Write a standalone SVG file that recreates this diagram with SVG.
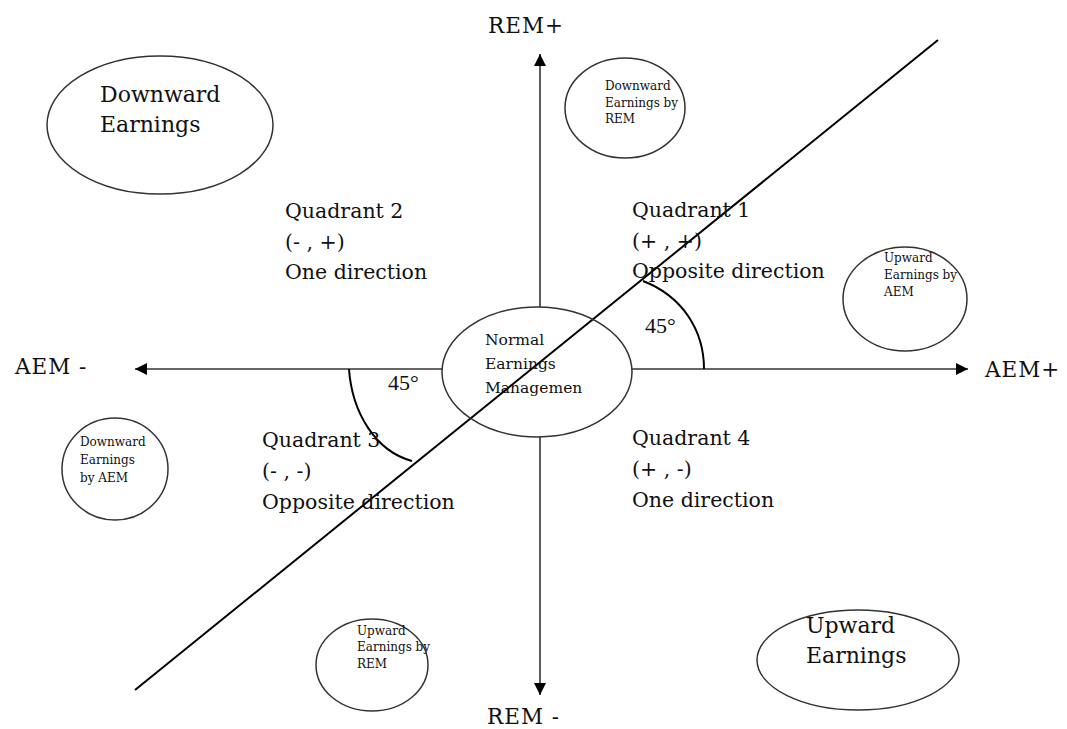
<svg xmlns="http://www.w3.org/2000/svg" width="1067" height="729" viewBox="0 0 1067 729">
<style>
text{font-family:"DejaVu Serif","Liberation Serif",serif;fill:#111}
.big{font-size:20.5px}
.lg{font-size:22px}
.ax{font-size:21.5px;letter-spacing:1px}
.mid{font-size:15.5px}
.sm{font-size:12px}
.deg{font-family:"Liberation Serif","Times New Roman",serif;font-size:22px}
.ell{fill:none;stroke:#333;stroke-width:1.5}
.axis{stroke:#333;stroke-width:1.6;fill:none}
.arc{stroke:#000;stroke-width:2;fill:none}
</style>
<defs>
<marker id="ah" viewBox="0 0 10 10" refX="10" refY="5" markerWidth="12" markerHeight="12" markerUnits="userSpaceOnUse" orient="auto"><path d="M0,0 L10,5 L0,10 Z" fill="#000"/></marker>
</defs>
<rect width="1067" height="729" fill="#fff"/>
<g id="connectors">
<line class="axis" x1="540" y1="307" x2="540" y2="54" marker-end="url(#ah)"/>
<line class="axis" x1="540" y1="437" x2="540" y2="695" marker-end="url(#ah)"/>
<line class="axis" x1="442" y1="369" x2="135" y2="369" marker-end="url(#ah)"/>
<line class="axis" x1="632" y1="369" x2="968" y2="369" marker-end="url(#ah)"/>
<line x1="135" y1="690" x2="938" y2="40" stroke="#000" stroke-width="2"/>
<path class="arc" d="M643,281 C682,296 704,330 704,369"/>
<path class="arc" d="M349,369 C352,412 375,451 412,461"/>
</g>
<g id="axis-labels">
<text class="ax" x="488" y="33">REM+</text>
<text class="ax" x="487" y="724">REM -</text>
<text class="ax" x="15" y="374">AEM -</text>
<text class="ax" x="985" y="377">AEM+</text>
</g>
<g id="center">
<ellipse class="ell" cx="537" cy="372" rx="95" ry="65"/>
<text class="mid"><tspan x="485" y="345">Normal</tspan><tspan x="485" y="369">Earnings</tspan><tspan x="485" y="393">Managemen</tspan></text>
</g>
<g id="downward-earnings">
<ellipse class="ell" cx="160" cy="125" rx="113" ry="69"/>
<text class="lg"><tspan x="100" y="102">Downward</tspan><tspan x="100" y="132">Earnings</tspan></text>
</g>
<g id="downward-rem">
<ellipse class="ell" cx="625" cy="108" rx="60" ry="50"/>
<text class="sm"><tspan x="605" y="90">Downward</tspan><tspan x="605" y="107">Earnings by</tspan><tspan x="605" y="123">REM</tspan></text>
</g>
<g id="upward-aem">
<ellipse class="ell" cx="905" cy="299" rx="62" ry="52"/>
<text class="sm"><tspan x="884" y="262">Upward</tspan><tspan x="884" y="279">Earnings by</tspan><tspan x="884" y="296">AEM</tspan></text>
</g>
<g id="downward-aem">
<ellipse class="ell" cx="115" cy="469" rx="53" ry="51"/>
<text class="sm"><tspan x="80" y="446">Downward</tspan><tspan x="80" y="464">Earnings</tspan><tspan x="80" y="482">by AEM</tspan></text>
</g>
<g id="upward-rem">
<ellipse class="ell" cx="372" cy="665" rx="56" ry="46"/>
<text class="sm"><tspan x="357" y="635">Upward</tspan><tspan x="357" y="651">Earnings by</tspan><tspan x="357" y="668">REM</tspan></text>
</g>
<g id="upward-earnings">
<ellipse class="ell" cx="858" cy="660" rx="101" ry="50"/>
<text class="lg"><tspan x="806" y="633">Upward</tspan><tspan x="806" y="663">Earnings</tspan></text>
</g>
<g id="quadrants">
<text class="big"><tspan x="285" y="218">Quadrant 2</tspan><tspan x="285" y="249">(- , +)</tspan><tspan x="285" y="279">One direction</tspan></text>
<text class="big"><tspan x="632" y="217">Quadrant 1</tspan><tspan x="632" y="248">(+ , +)</tspan><tspan x="632" y="278">Opposite direction</tspan></text>
<text class="big"><tspan x="262" y="447">Quadrant 3</tspan><tspan x="262" y="478">(- , -)</tspan><tspan x="262" y="509">Opposite direction</tspan></text>
<text class="big"><tspan x="632" y="445">Quadrant 4</tspan><tspan x="632" y="476">(+ , -)</tspan><tspan x="632" y="507">One direction</tspan></text>
<text class="deg" x="645" y="333">45°</text>
<text class="deg" x="388" y="390">45°</text>
</g>
</svg>
